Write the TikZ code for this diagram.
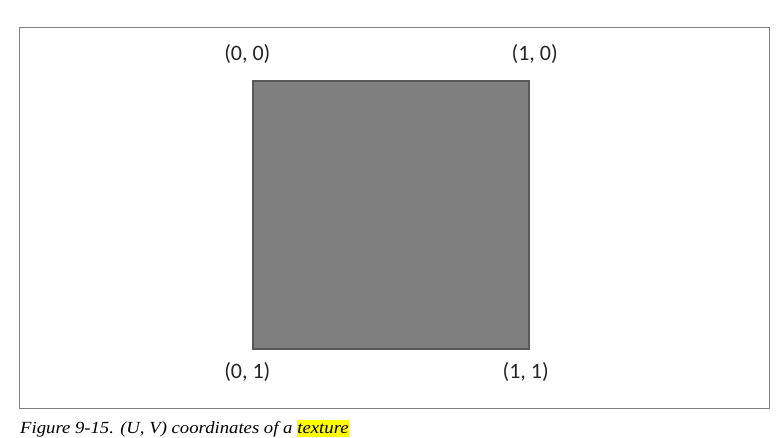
\documentclass[tikz,border=0pt]{standalone}
\usepackage{fontspec}
\setmainfont{Liberation Serif}
\newfontfamily\labelfont{Carlito}
\newfontfamily\capfont[FakeStretch=1.10]{Liberation Serif}
\usepackage{xcolor}
\definecolor{cFrame}{HTML}{808080}
\definecolor{cTex}  {HTML}{7F7F7F}
\definecolor{cEdge} {HTML}{595959}
\definecolor{cMark} {HTML}{FFFF00}
\usetikzlibrary{positioning}
\tikzset{
  corner/.style  = {inner sep=0pt, text=black!85,
                    font=\labelfont\fontsize{22}{26}\selectfont},
  figtext/.style = {inner sep=0pt, font=\capfont\itshape\fontsize{17}{20}\selectfont},
}
\begin{document}
\begin{tikzpicture}[x=1pt, y=-1pt]
  \useasboundingbox (0,0) rectangle (781,437);

  %% outer frame
  \node[draw=cFrame, line width=1.4pt, fill=white, inner sep=0pt,
        minimum width=750pt, minimum height=381pt] (frame) at (394.5,218) {};

  %% texture square
  \node[draw=cEdge, line width=1.4pt, fill=cTex, inner sep=0pt,
        minimum width=276pt, minimum height=268pt] (tex) at (391,215) {};

  %% corner labels
  \node[corner] (uv00) at ([shift={(-5,-26)}]tex.north west) {(0, 0)};
  \node[corner] (uv10) at ([shift={(5,-26)}]tex.north east)  {(1, 0)};
  \node[corner] (uv01) at ([shift={(-5,22.5)}]tex.south west) {(0, 1)};
  \node[corner] (uv11) at ([shift={(-4,22.5)}]tex.south east) {(1, 1)};

  %% caption
  \node[figtext, anchor=base west] (figcap) at (20,433)
        {Figure 9-15. (U, V) coordinates of a};
  \node[figtext, anchor=base west, fill=cMark, text height=13pt, text depth=4pt]
        (word) at ([xshift=4.5pt]figcap.base east) {texture};
\end{tikzpicture}
\end{document}
